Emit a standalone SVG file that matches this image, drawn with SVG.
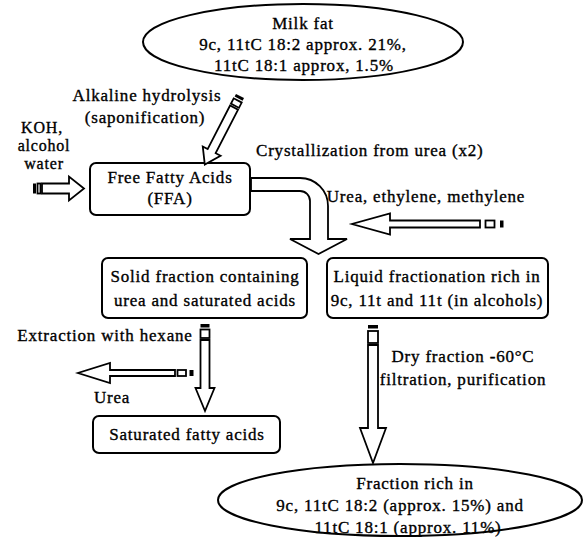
<svg xmlns="http://www.w3.org/2000/svg" width="587" height="537" viewBox="0 0 587 537">
<style>
text{font-family:"Liberation Serif","Times New Roman",serif;font-size:17px;letter-spacing:0.8px;fill:#000;stroke:#000;stroke-width:0.35px}
.c{text-anchor:middle}
.sm{font-size:16px}
.shape{fill:#fff;stroke:#000;stroke-width:2}
.arrow{fill:#fff;stroke:#000;stroke-width:1.8;stroke-linejoin:miter}
.sq{fill:#fff;stroke:#000;stroke-width:1.8}
.bar{fill:#000}
</style>
<rect width="587" height="537" fill="#fff"/>
<g id="milk-fat">
<ellipse class="shape" cx="303" cy="42" rx="160" ry="38"/>
<text class="c" x="303" y="29">Milk fat</text>
<text class="c" x="303" y="50">9c, 11tC 18:2 approx. 21%,</text>
<text class="c" x="304" y="71">11tC 18:1 approx, 1.5%</text>
</g>
<g id="ffa">
<rect class="shape" x="90" y="163" width="160" height="52" rx="6"/>
<text class="c" x="170" y="183">Free Fatty Acids</text>
<text class="c" x="170" y="204">(FFA)</text>
</g>
<g id="solid-fraction">
<rect class="shape" x="102" y="258" width="205" height="60" rx="6"/>
<text class="c" x="205" y="282">Solid fraction containing</text>
<text class="c" x="205" y="306">urea and saturated acids</text>
</g>
<g id="liquid-fraction">
<rect class="shape" x="327" y="258" width="221" height="60" rx="6"/>
<text class="c" x="437" y="282">Liquid fractionation rich in</text>
<text class="c" x="437" y="306">9c, 11t and 11t (in alcohols)</text>
</g>
<g id="saturated-fatty-acids">
<rect class="shape" x="93" y="416" width="187" height="37" rx="6"/>
<text class="c" x="187" y="440">Saturated fatty acids</text>
</g>
<g id="fraction-rich">
<ellipse class="shape" cx="400" cy="500" rx="182" ry="36"/>
<text class="c" x="415" y="489">Fraction rich in</text>
<text class="c" x="400" y="511">9c, 11tC 18:2 (approx. 15%) and</text>
<text class="c" x="408" y="533">11tC 18:1 (approx. 11%)</text>
</g>
<g id="connectors">
<g transform="translate(240,96) rotate(117.2)">
<rect class="bar" x="0" y="-4.5" width="3" height="9"/>
<rect class="sq" x="5" y="-4.5" width="6" height="9"/>
<polygon class="arrow" points="13,-4.5 62,-4.5 62,-10 77,0 62,10 62,4.5 13,4.5"/>
</g>
<rect class="bar" x="33" y="183.5" width="3" height="10"/>
<rect class="sq" x="37.5" y="183.5" width="3" height="10"/>
<polygon class="arrow" points="42,183.5 69,183.5 69,176.5 84,188.5 69,200.5 69,193.5 42,193.5"/>
<path class="arrow" d="M251,178 H300 A28,28 0 0 1 328,206 V239 H347 L318.5,254 L290,239 H310 V201 A10,10 0 0 0 300,191 H251 Z"/>
<polygon class="arrow" points="480,220.5 390,220.5 390,213.5 352,224 390,234.5 390,227.5 480,227.5"/>
<rect class="sq" x="485.5" y="220.5" width="9" height="7"/>
<rect class="bar" x="500" y="220.5" width="3.5" height="7"/>
<rect class="bar" x="200.5" y="324" width="9" height="3.5"/>
<rect class="sq" x="200.5" y="329.5" width="9" height="8.5"/>
<polygon class="arrow" points="200.5,340 200.5,388 195.5,388 205,411 214.5,388 209.5,388 209.5,340"/>
<polygon class="arrow" points="175,370 110,370 110,363 78,373 110,383 110,376 175,376"/>
<rect class="sq" x="177.5" y="370" width="8.5" height="6"/>
<rect class="bar" x="189.5" y="370" width="4" height="6"/>
<rect class="bar" x="368" y="325" width="10" height="3.5"/>
<rect class="sq" x="368" y="331" width="10" height="12"/>
<polygon class="arrow" points="368,345 368,428 360,428 373,463 386,428 378,428 378,345"/>
</g>
<g id="labels">
<text class="c" x="147" y="101">Alkaline hydrolysis</text>
<text class="c" x="145" y="123">(saponification)</text>
<text class="c sm" x="42" y="133">KOH,</text>
<text class="c sm" x="44" y="151">alcohol</text>
<text class="c sm" x="44" y="169">water</text>
<text x="256" y="156">Crystallization from urea (x2)</text>
<text class="c" x="426" y="202">Urea, ethylene, methylene</text>
<text class="c" x="105" y="341">Extraction with hexane</text>
<text class="c" x="112" y="403">Urea</text>
<text class="c" x="463" y="362">Dry fraction -60°C</text>
<text class="c" x="463" y="385">filtration, purification</text>
</g>
</svg>
